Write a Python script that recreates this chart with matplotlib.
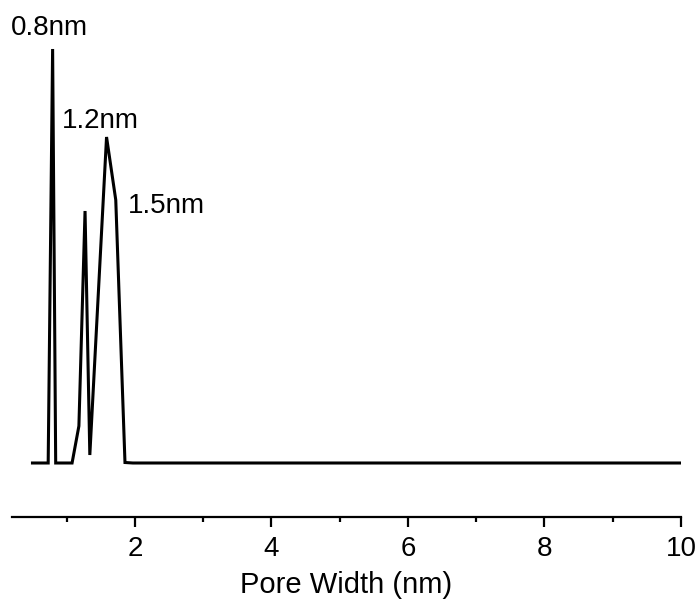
import matplotlib
matplotlib.use("Agg")
import matplotlib.pyplot as plt
from matplotlib.ticker import MultipleLocator

plt.rcParams['font.family'] = ['Liberation Sans', 'DejaVu Sans']

# Pore size distribution (arbitrary units)
pore_width = [0.50, 0.73, 0.795, 0.84, 1.08, 1.18, 1.27, 1.34, 1.585, 1.72, 1.855, 1.97, 3.0, 5.0, 7.0, 10.0]
dv = [0.0, 0.0, 4.14, 0.0, 0.0, 0.37, 2.52, 0.08, 3.26, 2.63, 0.005, 0.0, 0.0, 0.0, 0.0, 0.0]

labels = ["0.8nm", "1.2nm", "1.5nm"]
label_x = [0.18, 0.925, 1.9]
label_y = [4.28, 3.35, 2.50]

fig = plt.figure(figsize=(7.0, 6.04), dpi=100)
ax = fig.add_axes([12/700, 1-517/604, (681-12)/700, (517-10)/604])

ax.plot(pore_width, dv, color='black', lw=2.2, solid_joinstyle='miter')

for t, x, y in zip(labels, label_x, label_y):
    ax.text(x, y, t, fontsize=20, ha='left', va='baseline', clip_on=False)

ax.set_xlim(0.2, 10.0)
ax.set_ylim(-0.54, 4.53)
for s in ['top', 'right', 'left']:
    ax.spines[s].set_visible(False)
ax.spines['bottom'].set_linewidth(1.6)
ax.set_yticks([])
ax.xaxis.set_major_locator(MultipleLocator(2))
ax.xaxis.set_minor_locator(MultipleLocator(1))
ax.set_xticks([2, 4, 6, 8, 10])
ax.tick_params(axis='x', which='major', length=7, width=1.6, labelsize=20, pad=7, direction='out')
ax.tick_params(axis='x', which='minor', length=3.5, width=1.6, direction='out')
ax.set_xlabel("Pore Width (nm)", fontsize=21, labelpad=6)

fig.savefig("out.png", dpi=100)
